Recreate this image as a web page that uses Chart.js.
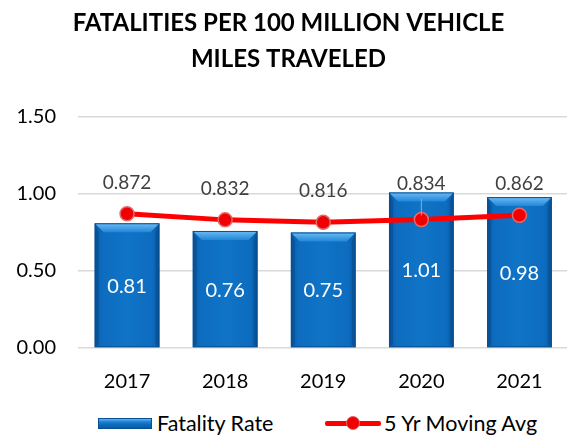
<!DOCTYPE html>
<html>
<head>
<meta charset="utf-8">
<script src="https://cdn.jsdelivr.net/npm/chart.js@4.4.1/dist/chart.umd.min.js"></script>
<style>
  body { margin: 0; background: #fff; overflow: hidden; width: 567px; height: 436px; position: relative; font-family: Lato, "Open Sans", sans-serif; }
  #wrap { position: absolute; left: 0; top: 0; width: 577px; height: 400px; }
  #legend { position: absolute; top: 410px; left: 0; width: 567px; height: 26px; font-size: 21.5px; color: #000; }
  .item { position: absolute; top: 0; display: flex; align-items: center; height: 26px; }
  .barKey { width: 54px; height: 11px; margin-right: 5px; background: linear-gradient(#5fb4f2, #1e82d4 30%, #0b6cc0 60%, #0a5aa6); border: 1px solid #0a4f90; box-sizing: border-box; }
  .lineKey { position: relative; width: 56px; height: 14px; margin-right: 3px; }
  .lineKey .ln { position: absolute; left: 0; right: 0; top: 5px; height: 5px; background: #ff0000; border-radius: 2px; }
  .lineKey .pt { position: absolute; left: 21px; top: 0; width: 14px; height: 14px; border-radius: 50%; background: #f00000; box-sizing: border-box; border: 1.5px solid #e36a6a; }
</style>
</head>
<body>
<div id="wrap"><canvas id="chart"></canvas></div>
<div id="legend">
  <div class="item" style="left:98px"><span class="barKey"></span>Fatality Rate</div>
  <div class="item" style="left:325px"><span class="lineKey"><span class="ln"></span><span class="pt"></span></span>5 Yr Moving Avg</div>
</div>
<script>
const years = ['2017', '2018', '2019', '2020', '2021'];
const fatalityRate = [0.81, 0.76, 0.75, 1.01, 0.98];
const movingAvg = [0.872, 0.832, 0.816, 0.834, 0.862];
const yTicks = [0, 0.5, 1.0, 1.5];

// extra lift for the avg labels (2020 label sits above its bar with a leader line)
const avgLabelLift = [0, 0, 0, 5, 0];

const LINE = 0, BAR = 1;

function barFill(c) {
    const chart = c.chart;
    if (!chart.chartArea) return '#0b6cc0';
    const x = chart.scales.x.getPixelForValue(c.dataIndex);
    const half = 33;
    const g = chart.ctx.createLinearGradient(x - half, 0, x + half, 0);
    g.addColorStop(0, '#0a58a0');
    g.addColorStop(0.12, '#0d6cbf');
    g.addColorStop(0.5, '#1074c6');
    g.addColorStop(0.88, '#0d6cbf');
    g.addColorStop(1, '#0a58a0');
    return g;
}

const bevel = {
    id: 'bevel',
    afterDatasetDraw(chart, args) {
        if (args.index !== BAR) return;
        const ctx = chart.ctx;
        args.meta.data.forEach(bar => {
            const l = bar.x - bar.width / 2, r = bar.x + bar.width / 2, t = bar.y, d = 9;
            ctx.save();
            const g = ctx.createLinearGradient(0, t, 0, t + d);
            g.addColorStop(0, '#6cbcf5');
            g.addColorStop(1, '#2186d8');
            ctx.fillStyle = g;
            ctx.beginPath();
            ctx.moveTo(l, t); ctx.lineTo(r, t); ctx.lineTo(r - d, t + d); ctx.lineTo(l + d, t + d);
            ctx.closePath();
            ctx.fill();
            // darker sides
            ctx.fillStyle = 'rgba(0,40,90,0.22)';
            ctx.beginPath();
            ctx.moveTo(l, t); ctx.lineTo(l + 4, t + d); ctx.lineTo(l + 4, bar.base - 3); ctx.lineTo(l, bar.base);
            ctx.closePath(); ctx.fill();
            ctx.beginPath();
            ctx.moveTo(r, t); ctx.lineTo(r - 4, t + d); ctx.lineTo(r - 4, bar.base - 3); ctx.lineTo(r, bar.base);
            ctx.closePath(); ctx.fill();
            ctx.strokeStyle = '#0a4f90';
            ctx.lineWidth = 1;
            ctx.strokeRect(l + 0.5, t + 0.5, bar.width - 1, bar.base - t - 1);
            ctx.restore();
        });
    }
};

const valueLabels = {
    id: 'valueLabels',
    afterDatasetsDraw(chart) {
        const ctx = chart.ctx;
        ctx.save();
        ctx.textAlign = 'center';
        ctx.textBaseline = 'middle';
        chart.getDatasetMeta(BAR).data.forEach((bar, i) => {
            ctx.fillStyle = '#ffffff';
            ctx.font = '20px Lato';
            ctx.fillText(fatalityRate[i].toFixed(2), bar.x, (bar.y + bar.base) / 2 + 1);
        });
        chart.getDatasetMeta(LINE).data.forEach((pt, i) => {
            const ly = pt.y - 31 - avgLabelLift[i];
            if (avgLabelLift[i] > 0) {
                ctx.strokeStyle = '#a6a6a6';
                ctx.lineWidth = 1;
                ctx.beginPath();
                ctx.moveTo(pt.x, ly + 15);
                ctx.lineTo(pt.x, pt.y - 4);
                ctx.stroke();
            }
            ctx.fillStyle = '#404040';
            ctx.font = '19px Lato';
            ctx.fillText(movingAvg[i].toFixed(3), pt.x, ly);
        });
        ctx.restore();
    }
};

new Chart(document.getElementById('chart'), {
    data: {
        labels: years,
        datasets: [{
            type: 'line',
            label: '5 Yr Moving Avg',
            data: movingAvg,
            borderColor: '#ff0000',
            borderWidth: 5,
            pointRadius: 7,
            pointBackgroundColor: '#f00000',
            pointBorderColor: '#e36a6a',
            pointBorderWidth: 1.5,
            tension: 0,
            order: 0
        }, {
            type: 'bar',
            label: 'Fatality Rate',
            data: fatalityRate,
            backgroundColor: barFill,
            borderWidth: 0,
            barPercentage: 0.66,
            categoryPercentage: 1,
            order: 1
        }]
    },
    options: {
        responsive: true,
        maintainAspectRatio: false,
        animation: false,
        layout: { padding: { left: 0, right: 0, top: 0, bottom: 0 } },
        plugins: {
            legend: { display: false },
            tooltip: { enabled: false },
            title: {
                display: true,
                text: ['FATALITIES PER 100 MILLION VEHICLE', 'MILES TRAVELED'],
                color: '#000',
                font: { family: 'Lato', size: 24, weight: 'bold', lineHeight: 1.5 },
                padding: { top: 5, bottom: 40 }
            }
        },
        scales: {
            x: {
                grid: { display: false },
                border: { display: false },
                ticks: { color: '#000', font: { family: 'Lato', size: 20 }, padding: 14 },
                afterFit(s) { s.height = 52; }
            },
            y: {
                min: 0,
                max: 1.5,
                afterBuildTicks(s) { s.ticks = yTicks.map(v => ({ value: v })); },
                grid: { color: '#d9d9d9', lineWidth: 1.5, drawTicks: false },
                border: { display: false },
                ticks: {
                    color: '#000',
                    font: { family: 'Lato', size: 20 },
                    padding: 22,
                    callback: v => v.toFixed(2)
                },
                afterFit(s) { s.width = 78; }
            }
        }
    },
    plugins: [bevel, valueLabels]
});
</script>
</body>
</html>
